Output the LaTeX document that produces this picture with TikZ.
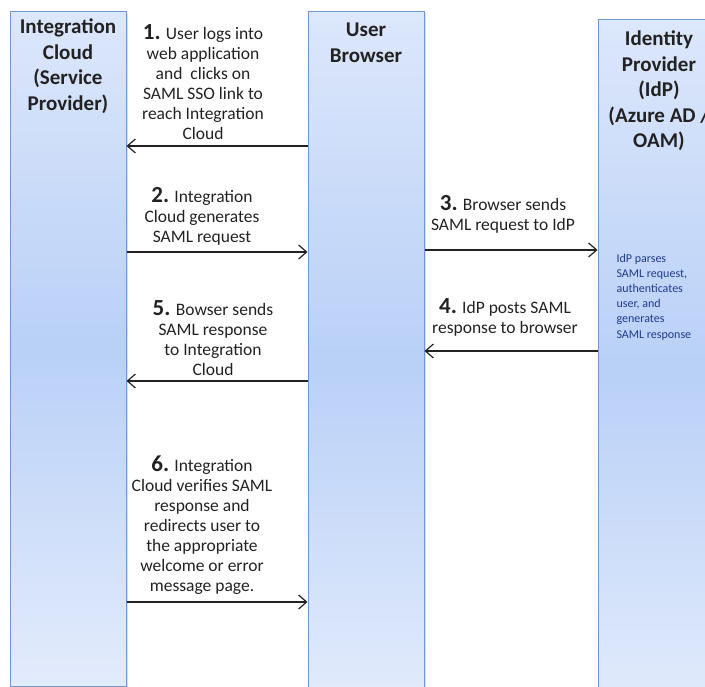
\documentclass[tikz,border=0pt]{standalone}
\usepackage{fontspec}
\setmainfont{Carlito}
\usetikzlibrary{arrows.meta,shadows}
\definecolor{colborder}{HTML}{6F97D4}
\definecolor{coltop}{HTML}{DCE7FB}
\definecolor{colmid}{HTML}{B9D0F7}
\definecolor{notecol}{HTML}{1F3C88}
\definecolor{txt}{HTML}{222222}
\tikzset{
  lane/.style={draw=colborder, line width=1pt, top color=coltop, bottom color=coltop!80!white, middle color=colmid, shading angle=0,
    drop shadow={shadow xshift=1.5pt, shadow yshift=-1.5pt, opacity=0.25}, inner sep=0pt},
  head/.style={font=\bfseries\fontsize{21}{25.5}\selectfont, align=center, text=txt},
  lbl/.style={font=\fontsize{17.5}{20}\selectfont, align=center, text=txt},
  note/.style={font=\fontsize{12}{15.2}\selectfont, align=left, text=notecol, anchor=west},
  arr/.style={-{Straight Barb[length=8pt,width=14pt,line width=1.2pt]}, line width=1.3pt, draw=txt}
}
\newcommand{\num}[1]{{\bfseries\fontsize{23}{20}\selectfont #1}}
\begin{document}
\begin{tikzpicture}[x=1pt,y=-1pt]
\useasboundingbox (0,0) rectangle (705,687);
\begin{scope}
\clip (0,0) rectangle (705,687);
\node[lane, minimum width=116pt, minimum height=674pt] (left) at (68,349) {};
\node[lane, minimum width=116pt, minimum height=700pt] (mid) at (366,362) {};
\node[lane, minimum width=124pt, minimum height=700pt] (right) at (660,370) {};
\end{scope}
\node[head] (hl) at (68,66) {Integration\\Cloud\\(Service\\Provider)};
\node[head] (hm) at (366,43) {User\\Browser};
\node[head] (hr) at (659,91) {Identity\\Provider\\(IdP)\\(Azure AD /\\OAM)};

\node[lbl] (l1) at (203,82) {\num{1.} User logs into\\web application\\and\ \ clicks on\\SAML SSO link to\\reach Integration\\Cloud};
\node[lbl] (l2) at (202,216) {\num{2.} Integration\\Cloud generates\\SAML request};
\node[lbl] (l3) at (503,214) {\num{3.} Browser sends\\SAML request to IdP};
\node[lbl] (l4) at (505,317) {\num{4.} IdP posts SAML\\response to browser};
\node[lbl] (l5) at (213,338) {\num{5.} Bowser sends\\SAML response\\to Integration\\Cloud};
\node[lbl] (l6) at (202,525) {\num{6.} Integration\\Cloud verifies SAML\\response and\\redirects user to\\the appropriate\\welcome or error\\message page.};
\node[note] (nt) at (613,297) {IdP parses\\SAML request,\\authenticates\\user, and\\generates\\SAML response};

\draw[arr] (mid.west |- 0,146) -- (left.east |- 0,146);
\draw[arr] (left.east |- 0,252) -- (mid.west |- 0,252);
\draw[arr] (mid.east |- 0,250) -- (right.west |- 0,250);
\draw[arr] (right.west |- 0,351) -- (mid.east |- 0,351);
\draw[arr] (mid.west |- 0,381) -- (left.east |- 0,381);
\draw[arr] (left.east |- 0,602) -- (mid.west |- 0,602);
\end{tikzpicture}
\end{document}
